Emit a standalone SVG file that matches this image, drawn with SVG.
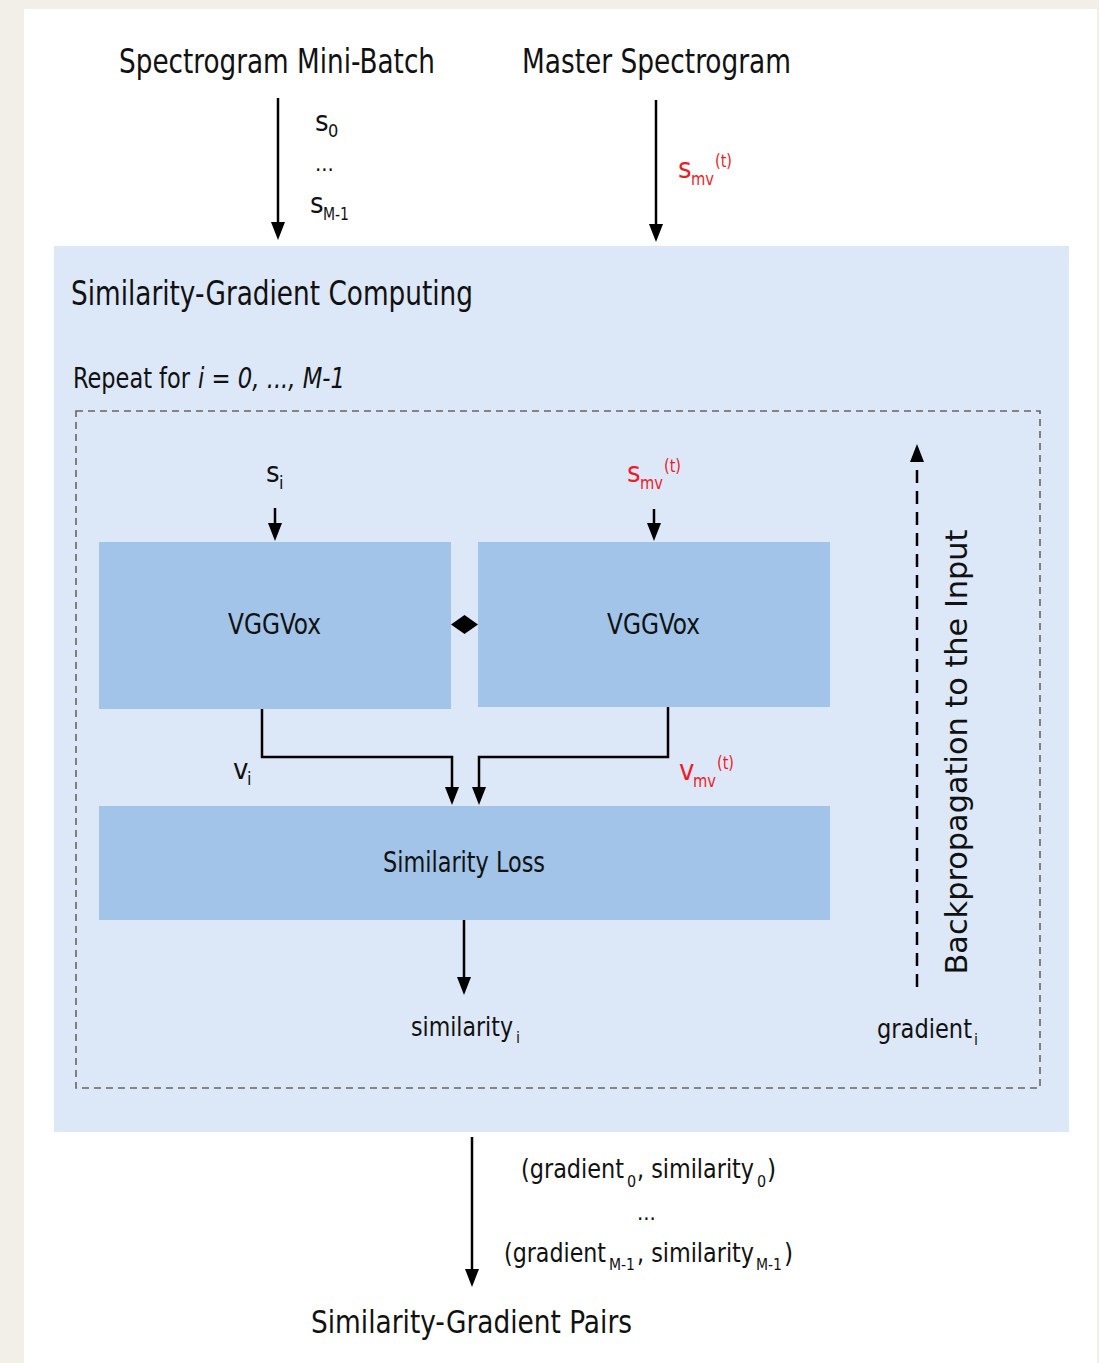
<svg xmlns="http://www.w3.org/2000/svg" width="1099" height="1363" viewBox="0 0 1099 1363">
<style>
text{font-family:'DejaVu Sans Condensed','DejaVu Sans',sans-serif;fill:#111;}
.h{font-size:34px;}
.b{font-size:29px;}
.l{font-size:26px;}
.sub{font-size:18px;}
.ss{font-size:16px;}
.red{fill:#ee1c25;}
.conn{stroke:#000;stroke-width:2.5;fill:none;}
.box{fill:#a1c4e8;}
</style>
<defs>
<marker id="arr" markerUnits="userSpaceOnUse" viewBox="0 0 18 14" markerWidth="18" markerHeight="14" refX="4" refY="7" orient="auto">
<path d="M0,0 L18,7 L0,14 z" fill="#000"/>
</marker>
</defs>
<rect x="0" y="0" width="1099" height="1363" fill="#f2efe8"/>
<rect x="24" y="9" width="1073" height="1354" fill="#ffffff"/>

<g id="outer">
<rect x="54" y="246" width="1015" height="886" fill="#dce7f8"/>
<text x="71" y="305" style="font-size:33px" textLength="402" lengthAdjust="spacingAndGlyphs">Similarity-Gradient Computing</text>
<text x="73" y="388" style="font-size:29px" textLength="117" lengthAdjust="spacingAndGlyphs">Repeat for</text>
<text x="198" y="388" style="font-size:29px;font-style:italic" textLength="147" lengthAdjust="spacingAndGlyphs">i = 0, ..., M-1</text>
</g>

<g id="loop">
<rect x="76" y="411" width="964" height="677" fill="none" stroke="#666" stroke-width="1.6" stroke-dasharray="7,5"/>
</g>

<g id="vggvox-left">
<rect class="box" x="99" y="542" width="352" height="167"/>
<text class="b" x="228" y="634" textLength="93" lengthAdjust="spacingAndGlyphs">VGGVox</text>
</g>
<g id="vggvox-right">
<rect class="box" x="478" y="542" width="352" height="165"/>
<text class="b" x="607" y="634" textLength="93" lengthAdjust="spacingAndGlyphs">VGGVox</text>
</g>
<g id="similarity-loss">
<rect class="box" x="99" y="806" width="731" height="114"/>
<text x="383" y="872" style="font-size:28px" textLength="162" lengthAdjust="spacingAndGlyphs">Similarity Loss</text>
</g>

<g id="inputs">
<text class="h" x="119" y="73" textLength="316" lengthAdjust="spacingAndGlyphs">Spectrogram Mini-Batch</text>
<text class="h" x="522" y="73" textLength="269" lengthAdjust="spacingAndGlyphs">Master Spectrogram</text>
</g>

<g id="output">
<text x="311" y="1333" style="font-size:32px" textLength="321" lengthAdjust="spacingAndGlyphs">Similarity-Gradient Pairs</text>
</g>

<g id="connectors">
<line class="conn" x1="278" y1="98" x2="278" y2="226" marker-end="url(#arr)"/>
<line class="conn" x1="656" y1="100" x2="656" y2="228" marker-end="url(#arr)"/>
<line class="conn" x1="275" y1="508" x2="275" y2="527" marker-end="url(#arr)"/>
<line class="conn" x1="654" y1="509" x2="654" y2="527" marker-end="url(#arr)"/>
<path class="conn" d="M262,709 V757 H452 V791" marker-end="url(#arr)"/>
<path class="conn" d="M668,707 V757 H479 V791" marker-end="url(#arr)"/>
<line class="conn" x1="464" y1="920" x2="464" y2="981" marker-end="url(#arr)"/>
<line class="conn" x1="472" y1="1137" x2="472" y2="1273" marker-end="url(#arr)"/>
<line class="conn" x1="917" y1="987" x2="917" y2="458" stroke-width="3" stroke-dasharray="13,8" marker-end="url(#arr)"/>
<path d="M451,624.5 L464.5,615 L478,624.5 L464.5,634 z" fill="#000"/>
</g>

<g id="labels">
<text class="b" x="315" y="131">s</text><text class="sub" x="328" y="137">0</text>
<text x="315" y="171" style="font-size:22px">...</text>
<text class="b" x="310" y="213">s</text><text class="sub" x="323" y="220" textLength="26" lengthAdjust="spacingAndGlyphs">M-1</text>

<text class="b red" x="678" y="178">s</text><text class="sub red" x="691" y="185" textLength="23" lengthAdjust="spacingAndGlyphs">mv</text><text class="sub red" x="715" y="167" textLength="17" lengthAdjust="spacingAndGlyphs">(t)</text>

<text class="b" x="266" y="482">s</text><text class="sub" x="279" y="489">i</text>
<text class="b red" x="627" y="482">s</text><text class="sub red" x="640" y="489" textLength="23" lengthAdjust="spacingAndGlyphs">mv</text><text class="sub red" x="664" y="472" textLength="17" lengthAdjust="spacingAndGlyphs">(t)</text>

<text class="b" x="233" y="779">v</text><text class="sub" x="247" y="785">i</text>
<text class="b red" x="679" y="780">v</text><text class="sub red" x="693" y="787" textLength="23" lengthAdjust="spacingAndGlyphs">mv</text><text class="sub red" x="717" y="769" textLength="17" lengthAdjust="spacingAndGlyphs">(t)</text>

<text class="l" x="411" y="1036" textLength="102" lengthAdjust="spacingAndGlyphs">similarity</text><text class="ss" x="516" y="1043">i</text>
<text class="l" x="877" y="1038" textLength="95" lengthAdjust="spacingAndGlyphs">gradient</text><text class="ss" x="974" y="1045">i</text>

<text x="0" y="0" transform="translate(967,752) rotate(-90)" style="font-family:'DejaVu Sans',sans-serif;font-size:30px" text-anchor="middle" textLength="445" lengthAdjust="spacingAndGlyphs">Backpropagation to the Input</text>

<text class="l" x="521" y="1178" textLength="103" lengthAdjust="spacingAndGlyphs">(gradient</text><text class="ss" x="627" y="1187">0</text><text class="l" x="637" y="1178" textLength="117" lengthAdjust="spacingAndGlyphs">, similarity</text><text class="ss" x="757" y="1187">0</text><text class="l" x="767" y="1178">)</text>
<text x="637" y="1220" style="font-size:22px">...</text>
<text class="l" x="504" y="1262" textLength="102" lengthAdjust="spacingAndGlyphs">(gradient</text><text class="ss" x="609" y="1270" textLength="26" lengthAdjust="spacingAndGlyphs">M-1</text><text class="l" x="637" y="1262" textLength="117" lengthAdjust="spacingAndGlyphs">, similarity</text><text class="ss" x="756" y="1270" textLength="26" lengthAdjust="spacingAndGlyphs">M-1</text><text class="l" x="784" y="1262">)</text>
</g>
</svg>
